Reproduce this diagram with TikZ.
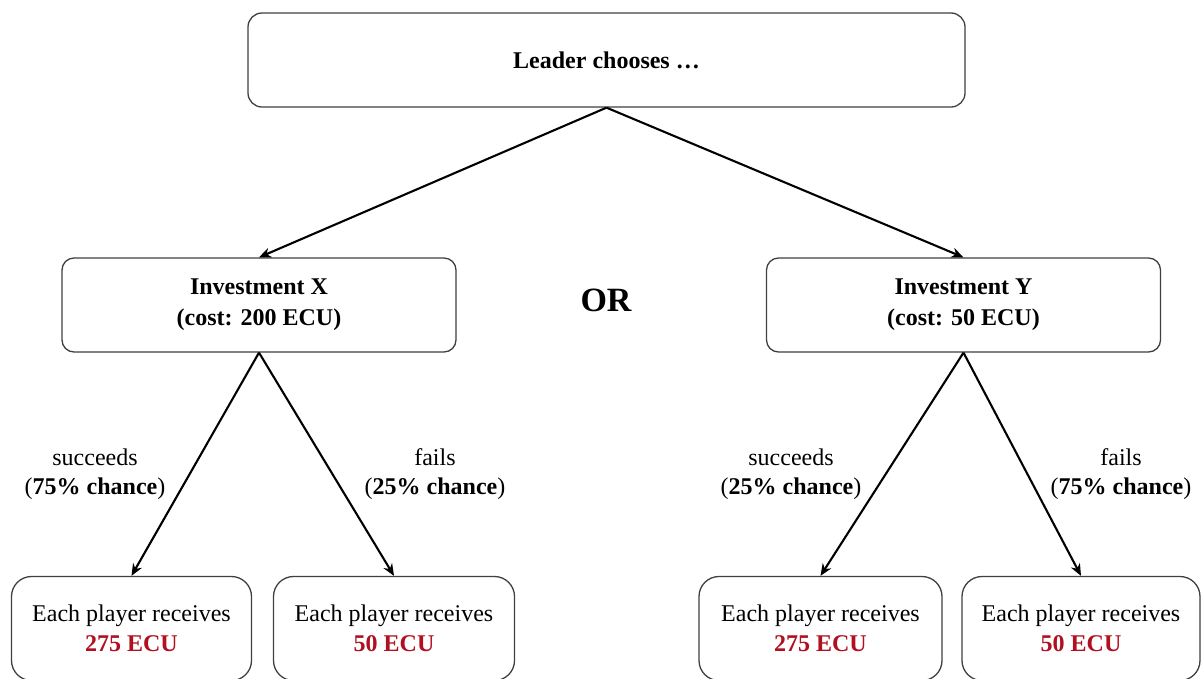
\documentclass[tikz,border=0pt]{standalone}
\usepackage{fontspec}
\setmainfont{Liberation Serif}
\usetikzlibrary{arrows.meta}
\definecolor{ecured}{RGB}{176,16,32}
\definecolor{boxline}{RGB}{64,64,64}
\begin{document}
\begin{tikzpicture}[x=1pt,y=-1pt,
  box/.style={draw=boxline, line width=1.3pt, fill=white, align=center, inner sep=0pt},
  topbox/.style={box, rounded corners=14pt, minimum width=717pt, minimum height=94pt, font=\fontsize{24}{30}\selectfont\bfseries},
  invbox/.style={box, rounded corners=12pt, minimum width=394pt, minimum height=94pt, font=\fontsize{24}{31}\selectfont\bfseries},
  paybox/.style={box, rounded corners=20pt, minimum height=104pt, font=\fontsize{24}{30}\selectfont},
  conn/.style={line width=2.1pt, -{Stealth[length=12pt,width=10pt]}},
  lbl/.style={align=center, inner sep=0pt, font=\fontsize{24}{29}\selectfont}]
\useasboundingbox (0,0) rectangle (1201,678);
\clip (0,0) rectangle (1201,678);
\node[topbox] (top) at (606.5,60) {\raisebox{-3pt}{Leader chooses \dots}};
\node[invbox] (invx) at (259,305) {Investment X\\(cost: 200 ECU)};
\node[invbox] (invy) at (963.5,305) {Investment Y\\(cost: 50 ECU)};
\node[font=\fontsize{34}{38}\selectfont\bfseries, inner sep=0pt] (or) at (606,300) {OR};
\node[paybox, minimum width=240pt] (p1) at (131.5,628.5) {Each player receives\\{\color{ecured}\bfseries 275 ECU}};
\node[paybox, minimum width=241pt] (p2) at (394,628.5) {Each player receives\\{\color{ecured}\bfseries 50 ECU}};
\node[paybox, minimum width=243pt] (p3) at (820.5,628.5) {Each player receives\\{\color{ecured}\bfseries 275 ECU}};
\node[paybox, minimum width=238pt] (p4) at (1081,628.5) {Each player receives\\{\color{ecured}\bfseries 50 ECU}};
\draw[conn] (top.south) -- (invx.north);
\draw[conn] (top.south) -- (invy.north);
\draw[conn] (invx.south) -- (p1.north);
\draw[conn] (invx.south) -- (p2.north);
\draw[conn] (invy.south) -- (p3.north);
\draw[conn] (invy.south) -- (p4.north);
\node[lbl] (l1) at (95,474) {succeeds\\(\textbf{75\% chance})};
\node[lbl] (l2) at (435,474) {fails\\(\textbf{25\% chance})};
\node[lbl] (l3) at (791,474) {succeeds\\(\textbf{25\% chance})};
\node[lbl] (l4) at (1121,474) {fails\\(\textbf{75\% chance})};
\end{tikzpicture}
\end{document}
